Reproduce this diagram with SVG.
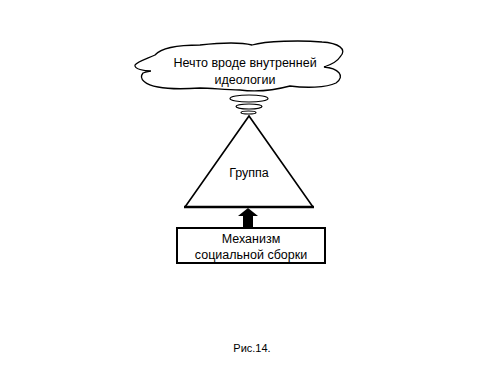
<svg xmlns="http://www.w3.org/2000/svg" width="500" height="375" viewBox="0 0 500 375">
<style>
text{font-family:"Liberation Sans",Arial,sans-serif;font-size:12.5px;fill:#000;text-anchor:middle}
.ln{fill:#fff;stroke:#000;stroke-width:1.3}
.thin{fill:none;stroke:#000;stroke-width:1.2}
</style>
<rect width="500" height="375" fill="#fff"/>
<g id="cloud">
<path class="ln" d="M155,55 C162,47 182,45 200,45 C218,43 240,42 252,45 C266,41 300,40 322,42 C338,43 348,49 340,57 C337,62 330,65 324,67 C338,68 346,76 336,83 C326,88 305,88 290,86 C275,90 255,92 240,90 C225,90 212,88 200,88 C185,89 168,89 158,87 C146,85 138,79 143,73 C146,72 149,71 151,71 C144,71 134,69 135,65 C137,62 146,59 155,55 Z"/>
<text x="245" y="67">Нечто вроде внутренней</text>
<text x="245" y="84">идеологии</text>
</g>
<g id="spiral">
<ellipse class="thin" cx="249" cy="98.5" rx="19" ry="3.5"/>
<ellipse class="thin" cx="249" cy="106.5" rx="13" ry="2.5"/>
<ellipse class="thin" cx="248.5" cy="112.5" rx="7.5" ry="1.5"/>
</g>
<g id="group">
<path d="M185,207 L249,116 L313,207" fill="#fff" stroke="#000" stroke-width="1.6" stroke-linejoin="miter"/>
<line x1="184" y1="207" x2="314" y2="207" stroke="#000" stroke-width="2.6"/>
<text x="249" y="177">Группа</text>
</g>
<g id="mechanism">
<rect x="177" y="228" width="148" height="35" fill="#fff" stroke="#000" stroke-width="2"/>
<text x="251" y="243">Механизм</text>
<text x="251" y="259">социальной сборки</text>
</g>
<g id="connectors">
<path d="M248,208 L258,216 L253,216 L253,228 L243,228 L243,216 L238,216 Z" fill="#000"/>
</g>
<text x="252" y="352" style="font-size:11px">Рис.14.</text>
</svg>
